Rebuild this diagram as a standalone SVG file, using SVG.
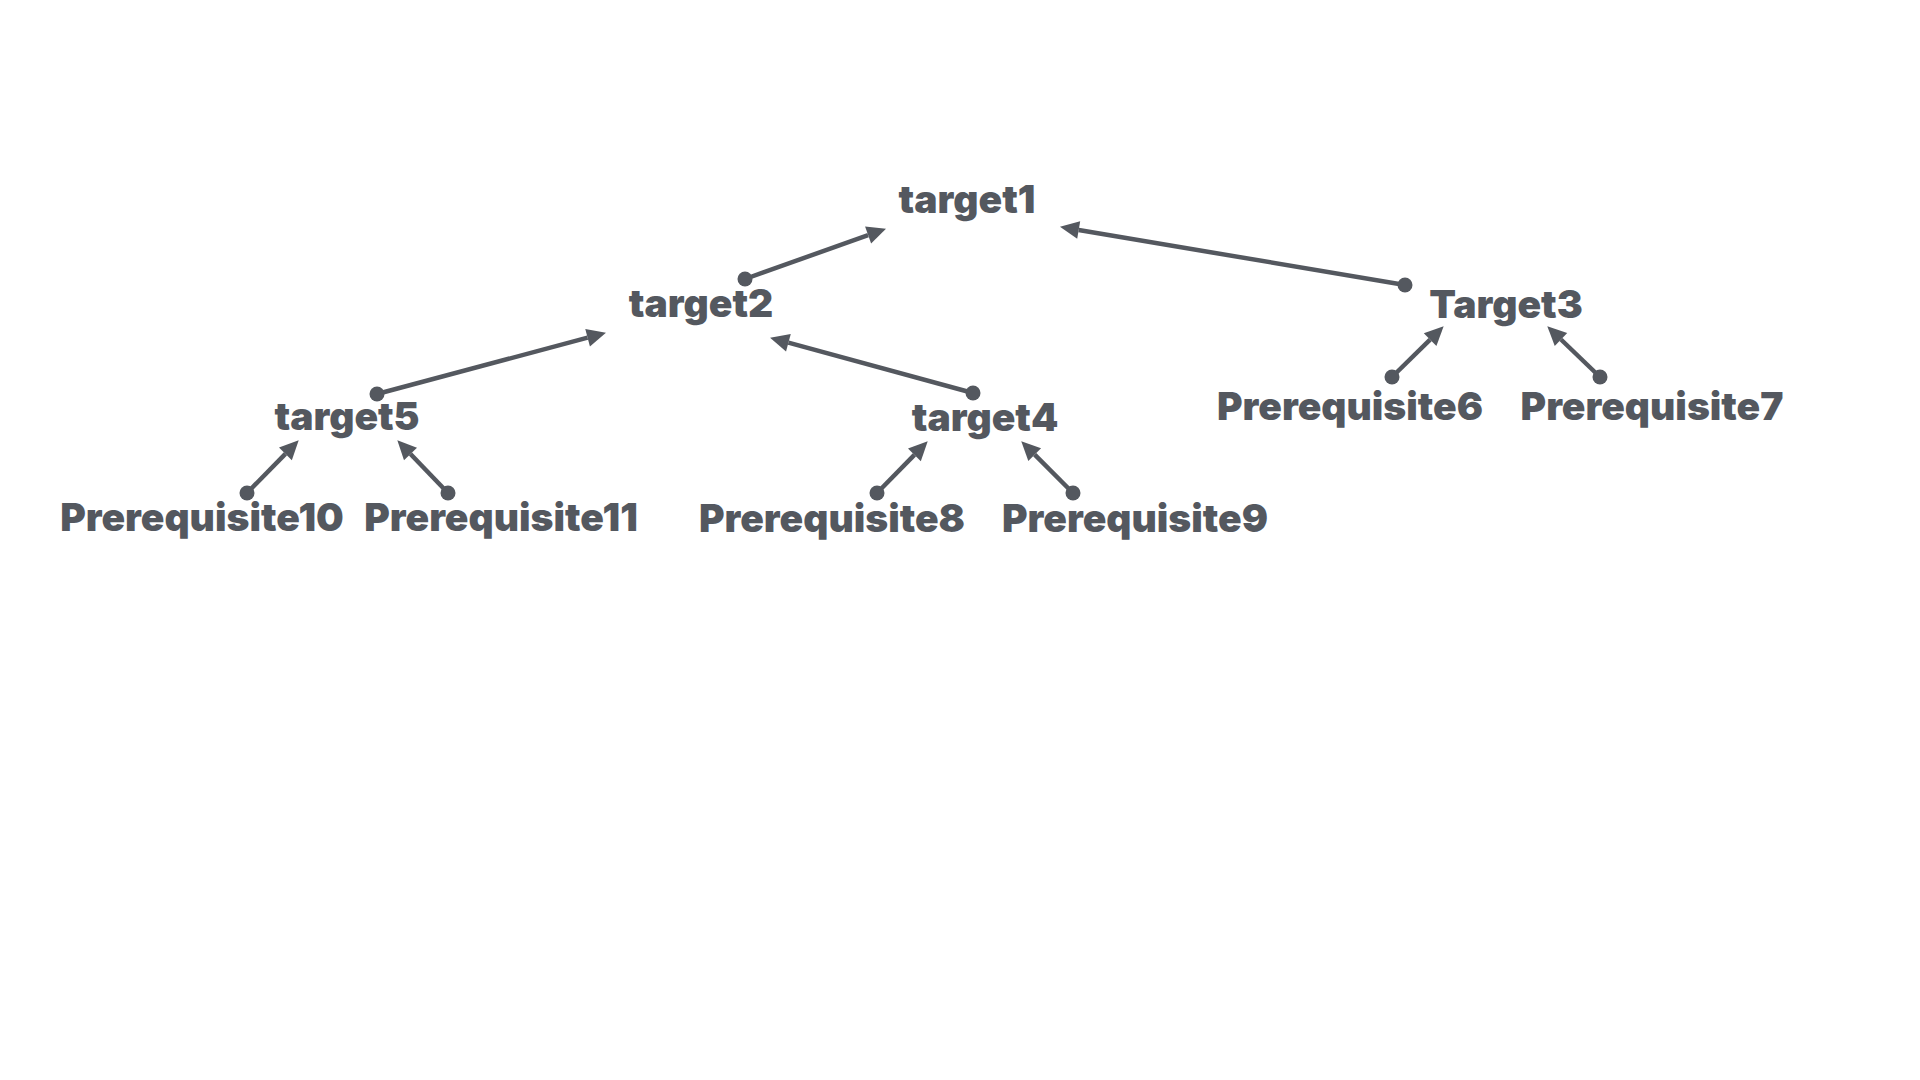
<svg xmlns="http://www.w3.org/2000/svg" width="1920" height="1080" viewBox="0 0 1920 1080">
<style>
.lbl{font-family:Inter,"Liberation Sans",sans-serif;font-weight:900;font-size:39px;fill:#54585f;text-anchor:middle}
.edge{stroke:#54585f;stroke-width:4.5;fill:none;marker-end:url(#arr)}
.dot{fill:#54585f}
</style>
<defs>
<marker id="arr" markerUnits="userSpaceOnUse" orient="auto" markerWidth="20" markerHeight="20" refX="0" refY="9" overflow="visible">
<path d="M0,0 L19,9 L0,18 Z" fill="#54585f"/>
</marker>
</defs>
<rect width="1920" height="1080" fill="#ffffff"/>
<g id="connectors">
<path class="edge" d="M745,279 L868.1,235.1"/><circle class="dot" cx="745" cy="279" r="7.5"/>
<path class="edge" d="M1405,285 L1078.7,230"/><circle class="dot" cx="1405" cy="285" r="7.5"/>
<path class="edge" d="M377,394 L587.6,337.7"/><circle class="dot" cx="377" cy="394" r="7.5"/>
<path class="edge" d="M973,393 L788.4,342.7"/><circle class="dot" cx="973" cy="393" r="7.5"/>
<path class="edge" d="M247,493 L285.4,453.9"/><circle class="dot" cx="247" cy="493" r="7.5"/>
<path class="edge" d="M448,493 L410.5,454"/><circle class="dot" cx="448" cy="493" r="7.5"/>
<path class="edge" d="M877,493 L914.4,454.9"/><circle class="dot" cx="877" cy="493" r="7.5"/>
<path class="edge" d="M1073,493 L1034.7,454.7"/><circle class="dot" cx="1073" cy="493" r="7.5"/>
<path class="edge" d="M1392,377 L1430.1,339.6"/><circle class="dot" cx="1392" cy="377" r="7.5"/>
<path class="edge" d="M1600,377 L1561,339.5"/><circle class="dot" cx="1600" cy="377" r="7.5"/>
</g>
<g id="target1"><text class="lbl" x="967" y="213">target1</text></g>
<g id="target2"><text class="lbl" x="701" y="317">target2</text></g>
<g id="Target3"><text class="lbl" x="1506" y="318">Target3</text></g>
<g id="target5"><text class="lbl" x="347" y="430">target5</text></g>
<g id="target4"><text class="lbl" x="985" y="431">target4</text></g>
<g id="Prerequisite6"><text class="lbl" x="1350" y="420">Prerequisite6</text></g>
<g id="Prerequisite7"><text class="lbl" x="1652" y="420">Prerequisite7</text></g>
<g id="Prerequisite10"><text class="lbl" x="202" y="531">Prerequisite10</text></g>
<g id="Prerequisite11"><text class="lbl" x="501" y="531">Prerequisite11</text></g>
<g id="Prerequisite8"><text class="lbl" x="832" y="532">Prerequisite8</text></g>
<g id="Prerequisite9"><text class="lbl" x="1135" y="532">Prerequisite9</text></g>
</svg>
